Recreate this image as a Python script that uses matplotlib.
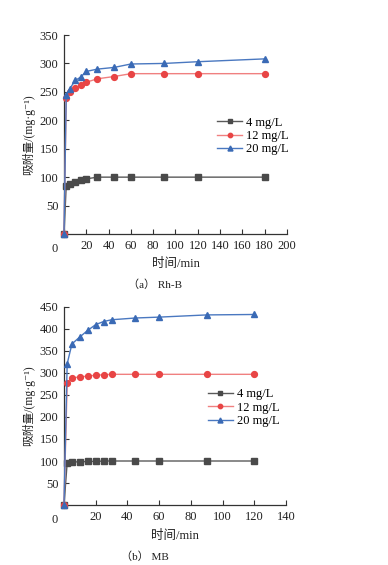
import matplotlib
matplotlib.use("Agg")
import matplotlib.pyplot as plt

plt.rcParams['font.family'] = ['Liberation Serif', 'Noto Sans CJK SC', 'DejaVu Sans']

# (a) Rh-B
time_a = [0, 2, 5, 10, 15, 20, 30, 45, 60, 90, 120, 180]
rhb_4 = [0, 85, 88, 92, 95, 97, 100, 100, 100, 100, 100, 100]
rhb_12 = [0, 240, 249, 256, 262, 267, 273, 277, 282, 282, 282, 282]
rhb_20 = [0, 244, 255, 270, 276, 286, 290, 293, 299, 300, 303, 308]

# (b) MB
time_b = [0, 2, 5, 10, 15, 20, 25, 30, 45, 60, 90, 120]
mb_4 = [0, 96, 98, 98, 99, 99, 100, 100, 100, 100, 100, 100]
mb_12 = [0, 277, 289, 291, 293, 295, 296, 297, 297, 297, 297, 297]
mb_20 = [0, 321, 366, 382, 397, 410, 417, 421, 425, 427, 432, 433]

labels = ['4 mg/L', '12 mg/L', '20 mg/L']
line_colors = ['#5a5a5a', '#f08080', '#4a78c0']
marker_colors = ['#4a4a4a', '#e84545', '#3a6ab5']
markers = ['s', 'o', '^']

W, H = 388, 565
fig = plt.figure(figsize=(W / 100, H / 100), dpi=100)


def px_axes(left, top, right, bottom):
    return fig.add_axes([left / W, 1 - bottom / H, (right - left) / W, (bottom - top) / H])


def draw_panel(ax, t, series, xmax, xstep, ymax, legend_pos):
    for y, lab, lc, mc, mk in zip(series, labels, line_colors, marker_colors, markers):
        ax.plot(t, y, color=lc, lw=1.0, marker=mk, markersize=4.2 if mk != '^' else 4.8,
                markerfacecolor=mc, markeredgecolor=mc, label=lab, clip_on=False, zorder=3)
    ax.set_xlim(0, xmax)
    ax.set_ylim(0, ymax)
    ax.set_xticks(range(0, xmax + 1, xstep))
    xt = [str(v) for v in range(0, xmax + 1, xstep)]
    xt[0] = ''
    ax.set_xticklabels(xt)
    ax.set_yticks(range(50, ymax + 1, 50))
    for s in ['top', 'right']:
        ax.spines[s].set_visible(False)
    for s in ['left', 'bottom']:
        ax.spines[s].set_color('#333333')
        ax.spines[s].set_linewidth(0.9)
    ax.tick_params(direction='in', length=3.5, width=0.8, colors='#333333',
                   labelsize=9, labelcolor='#222222', pad=4)
    ax.text(-0.04, -0.045, '0', transform=ax.transAxes, ha='center', va='top',
            fontsize=9, color='#222222')
    ax.set_ylabel('吸附量/(mg·g⁻¹)', fontsize=8.5, color='#222222', labelpad=3)
    ax.set_xlabel('时间/min', fontsize=9, color='#222222', labelpad=5)
    ax.legend(loc='upper left', bbox_to_anchor=legend_pos, frameon=False, fontsize=9,
              handlelength=2.0, handletextpad=0.3, labelspacing=0.1, borderpad=0,
              markerscale=0.75)


ax1 = px_axes(64, 35, 287, 234)
draw_panel(ax1, time_a, [rhb_4, rhb_12, rhb_20], 200, 20, 350, (0.66, 0.62))

ax2 = px_axes(64, 307, 286, 505)
draw_panel(ax2, time_b, [mb_4, mb_12, mb_20], 140, 20, 450, (0.62, 0.62))

fig.text(155 / W, 1 - 285 / H, '（a） Rh-B', ha='center', va='center', fontsize=8, color='#222222')
fig.text(145 / W, 1 - 557 / H, '（b） MB', ha='center', va='center', fontsize=8, color='#222222')

fig.savefig('out.png', dpi=100)
